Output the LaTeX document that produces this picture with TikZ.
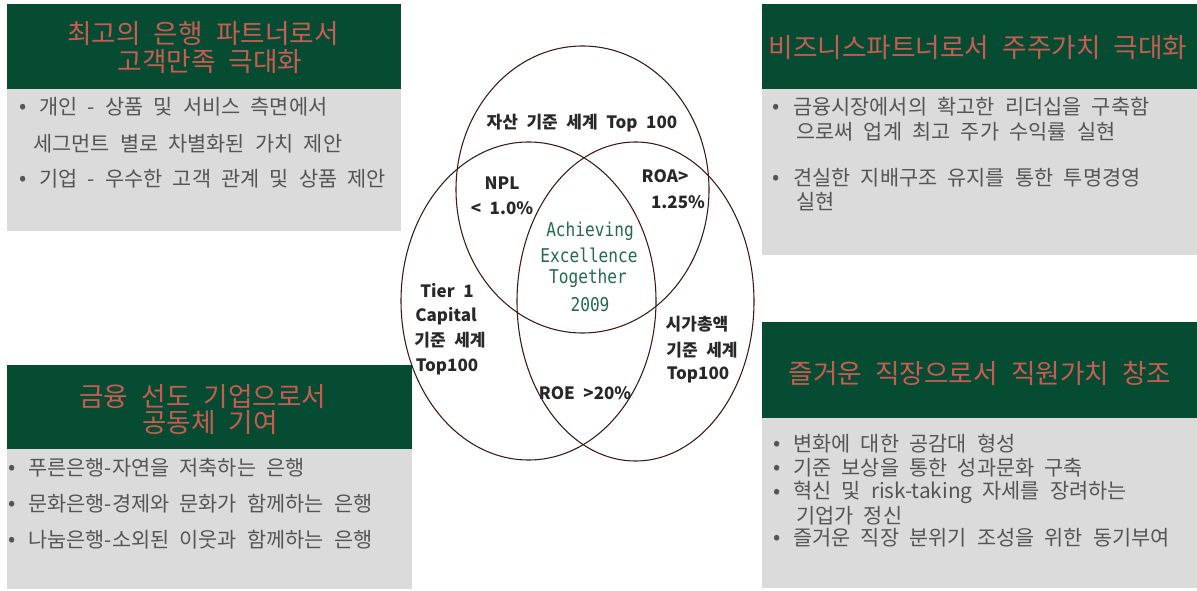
\documentclass[tikz,border=0pt]{standalone}
\usepackage{fontspec}
\setmainfont{Noto Sans CJK KR}[WordSpace=2.2]
\newfontfamily\achfont[FakeStretch=0.85]{DejaVu Sans Mono}
\usepackage{tikz}
\definecolor{hdrgreen}{RGB}{5,76,51}
\definecolor{hdrred}{RGB}{200,92,82}
\definecolor{boxgray}{RGB}{219,219,219}
\definecolor{bodygray}{RGB}{85,85,85}
\definecolor{vennline}{RGB}{60,25,25}
\definecolor{venntext}{RGB}{40,40,40}
\definecolor{achgreen}{RGB}{35,105,75}

\begin{document}
\begin{tikzpicture}[x=0.75pt,y=0.75pt,yscale=-1,xscale=1,
  hdrtext/.style={inner sep=0.75pt, text=hdrred, font=\fontsize{20}{24}\selectfont},
  bodytext/.style={anchor=west, inner sep=0.75pt, text=bodygray, font=\fontsize{15.6}{18}\selectfont},
  bul/.style={inner sep=0pt, text=bodygray, font=\fontsize{16}{18}\selectfont},
  venntext/.style={inner sep=0.75pt, text=venntext, font=\fontsize{12.75}{15}\selectfont\bfseries},
  achtext/.style={inner sep=0.75pt, text=achgreen, font=\fontsize{14.25}{17}\selectfont\achfont}]
\path[use as bounding box] (0,0) rectangle (1197,591);

%Shape: Rectangle [top left]
\fill [hdrgreen] (7,4) rectangle (401,89) ;
\fill [boxgray] (7,89) rectangle (401,231) ;
%Shape: Rectangle [top right]
\fill [hdrgreen] (762,4) rectangle (1197,89) ;
\fill [boxgray] (762,89) rectangle (1197,255) ;
%Shape: Rectangle [bottom right]
\fill [hdrgreen] (762,322) rectangle (1197,418) ;
\fill [boxgray] (762,418) rectangle (1197,588) ;
%Shape: Rectangle [bottom left]
\fill [hdrgreen] (7,365) rectangle (412,449) ;
\fill [boxgray] (7,449) rectangle (412,589) ;

%Shape: Ellipse
\draw [vennline, line width=0.8pt] (582.5,189.5) ellipse (126.5 and 143.5) ;
\draw [vennline, line width=0.8pt] (528.5,301) ellipse (127.5 and 159) ;
\draw [vennline, line width=0.8pt] (635.5,301.5) ellipse (118.5 and 159.5) ;

% Text Node
\draw (203,34) node (tlh1) [hdrtext] {최고의 은행 파트너로서};
\draw (210,62) node (tlh2) [hdrtext] {고객만족 극대화};
\draw (23,109) node (tlb1) [bul] {•};
\draw (38,107) node (tlt1) [bodytext] {개인 - 상품 및 서비스 측면에서};
\draw (32,144) node (tlt2) [bodytext] {세그먼트 별로 차별화된 가치 제안};
\draw (23,181) node (tlb2) [bul] {•};
\draw (38,179) node (tlt3) [bodytext] {기업 - 우수한 고객 관계 및 상품 제안};

% Text Node
\draw (978,48) node (trh1) [hdrtext] {비즈니스파트너로서 주주가치 극대화};
\draw (776,109) node (trb1) [bul] {•};
\draw (792,107) node (trt1) [bodytext] {금융시장에서의 확고한 리더십을 구축함};
\draw (795,132) node (trt2) [bodytext] {으로써 업계 최고 주가 수익률 실현};
\draw (776,180) node (trb2) [bul] {•};
\draw (792,178) node (trt3) [bodytext] {견실한 지배구조 유지를 통한 투명경영};
\draw (795,202) node (trt4) [bodytext] {실현};

% Text Node
\draw (980,373) node (brh1) [hdrtext] {즐거운 직장으로서 직원가치 창조};
\draw (777,446) node (brb1) [bul] {•};
\draw (792,444) node (brt1) [bodytext] {변화에 대한 공감대 형성};
\draw (777,470) node (brb2) [bul] {•};
\draw (792,468) node (brt2) [bodytext] {기준 보상을 통한 성과문화 구축};
\draw (777,494) node (brb3) [bul] {•};
\draw (792,492) node (brt3) [bodytext] {혁신 및 risk-taking 자세를 장려하는};
\draw (795,516) node (brt4) [bodytext] {기업가 정신};
\draw (777,540) node (brb4) [bul] {•};
\draw (792,538) node (brt5) [bodytext] {즐거운 직장 분위기 조성을 위한 동기부여};

% Text Node
\draw (203,397) node (blh1) [hdrtext] {금융 선도 기업으로서};
\draw (210,423) node (blh2) [hdrtext] {공동체 기여};
\draw (12,470) node (blb1) [bul] {•};
\draw (27,468) node (blt1) [bodytext] {푸른은행-자연을 저축하는 은행};
\draw (12,506) node (blb2) [bul] {•};
\draw (27,504) node (blt2) [bodytext] {문화은행-경제와 문화가 함께하는 은행};
\draw (12,542) node (blb3) [bul] {•};
\draw (27,540) node (blt3) [bodytext] {나눔은행-소외된 이웃과 함께하는 은행};

% Text Node
\draw (582,123) node (vtop) [venntext] {자산 기준 세계 Top 100};
\draw (502,183) node (vnpl1) [venntext] {NPL};
\draw (502,208) node (vnpl2) [venntext] {< 1.0\%};
\draw (665,176) node (vroa1) [venntext] {ROA>};
\draw (678,202) node (vroa2) [venntext] {1.25\%};
\draw (447,291) node (vtier1) [venntext] {Tier 1};
\draw (446,316) node (vtier2) [venntext] {Capital};
\draw (450,340) node (vtier3) [venntext] {기준 세계};
\draw (447,367) node (vtier4) [venntext] {Top100};
\draw (697,324) node (vcap1) [venntext] {시가총액};
\draw (702,350) node (vcap2) [venntext] {기준 세계};
\draw (698,375) node (vcap3) [venntext] {Top100};
\draw (585,393) node (vroe) [venntext] {ROE >20\%};

% Text Node
\draw (590,231) node (ach1) [achtext] {Achieving};
\draw (589,255) node (ach2) [achtext] {Excellence};
\draw (588,278) node (ach3) [achtext] {Together};
\draw (590,305) node (ach4) [achtext] {2009};

\end{tikzpicture}
\end{document}
